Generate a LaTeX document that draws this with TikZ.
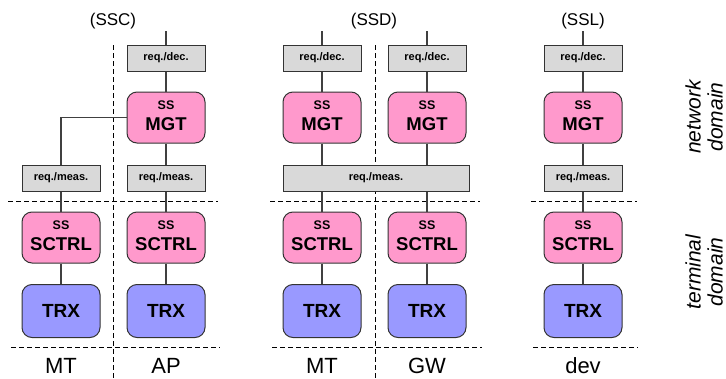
\documentclass[tikz,border=0pt]{standalone}
\usepackage{fontspec}
\setmainfont{Liberation Sans}
\definecolor{pinkbg}{HTML}{FF99CC}
\definecolor{bluebg}{HTML}{9999FF}
\definecolor{graybg}{HTML}{D9D9D9}
\definecolor{edge}{HTML}{333333}
\definecolor{wire}{HTML}{404040}
\tikzset{
  unit/.style={draw=edge, line width=1pt, inner sep=0pt, minimum width=78pt},
  reqbox/.style={unit, fill=graybg, minimum height=26pt,
    font=\bfseries\fontsize{11}{11}\selectfont},
  ssbox/.style={unit, fill=pinkbg, rounded corners=10pt, minimum height=51pt},
  trxbox/.style={unit, fill=bluebg, rounded corners=10pt, minimum height=53pt,
    font=\bfseries\fontsize{19}{19}\selectfont},
  smalltag/.style={anchor=base, inner sep=0pt, font=\bfseries\fontsize{12.5}{12.5}\selectfont},
  bigtag/.style={anchor=base, inner sep=0pt, font=\bfseries\fontsize{18.5}{18.5}\selectfont},
  conn/.style={draw=wire, line width=1.2pt},
  sep/.style={draw=black, line width=0.9pt, dash pattern=on 5pt off 3pt},
  grouptitle/.style={anchor=base, inner sep=0pt, font=\fontsize{17}{17}\selectfont},
  devname/.style={anchor=base, inner sep=0pt, text depth=0pt,
    font=\fontsize{22}{22}\selectfont},
  domainlabel/.style={rotate=90, align=center, inner sep=0pt,
    font=\itshape\fontsize{21}{22}\selectfont}
}
% subsystem box: name, position, main label
\newcommand{\subsysbox}[3]{%
  \node[ssbox] (#1) at (#2) {};
  \node[smalltag] (#1-ss) at ([yshift=8pt]#1.center) {SS};
  \node[bigtag] (#1-lbl) at ([yshift=-13pt]#1.center) {#3};
}
\begin{document}
\begin{tikzpicture}[x=1pt,y=-1pt]
\useasboundingbox (0,0) rectangle (726,378);

% separators
\draw[sep] (113,45) -- (113,378);
\draw[sep] (375,45) -- (375,378);
\draw[sep] (8,201) -- (218,201);
\draw[sep] (270,201) -- (480,201);
\draw[sep] (531,201) -- (637,201);
\draw[sep] (11,347) -- (220,347);
\draw[sep] (272,347) -- (482,347);
\draw[sep] (533,347) -- (638,347);

% group titles
\node[grouptitle] (tSSC) at (113,25) {(SSC)};
\node[grouptitle] (tSSD) at (374,25) {(SSD)};
\node[grouptitle] (tSSL) at (583,25) {(SSL)};

% ---- SSC: MT + AP
\node[reqbox] (rdAP) at (166,58) {req./dec.};
\subsysbox{mgtAP}{166,117.5}{MGT}
\node[reqbox] (rmMT) at (61,178) {req./meas.};
\node[reqbox] (rmAP) at (166,178) {req./meas.};
\subsysbox{scMT}{61,237.5}{SCTRL}
\subsysbox{scAP}{166,237.5}{SCTRL}
\node[trxbox] (trxMT) at (61,311) {TRX};
\node[trxbox] (trxAP) at (166,311) {TRX};
\coordinate (inSSC) at (166,31);
\draw[conn] (inSSC) -- (rdAP.north);
\draw[conn] (rdAP.south) -- (mgtAP.north);
\draw[conn] (mgtAP.south) -- (rmAP.north);
\draw[conn] (mgtAP.west) -| (rmMT.north);
\draw[conn] (rmMT.south) -- (scMT.north);
\draw[conn] (rmAP.south) -- (scAP.north);
\draw[conn] (scMT.south) -- (trxMT.north);
\draw[conn] (scAP.south) -- (trxAP.north);

% ---- SSD: MT + GW
\node[reqbox] (rdMT) at (322,58) {req./dec.};
\node[reqbox] (rdGW) at (427,58) {req./dec.};
\subsysbox{mgtMT}{322,117.5}{MGT}
\subsysbox{mgtGW}{427,117.5}{MGT}
\node[reqbox, minimum width=186pt] (rmSSD) at (376,178) {req./meas.};
\subsysbox{scMT2}{322,237.5}{SCTRL}
\subsysbox{scGW}{427,237.5}{SCTRL}
\node[trxbox] (trxMT2) at (322,311) {TRX};
\node[trxbox] (trxGW) at (427,311) {TRX};
\coordinate (inMT) at (322,31);
\coordinate (inGW) at (427,31);
\draw[conn] (inMT) -- (rdMT.north);
\draw[conn] (inGW) -- (rdGW.north);
\draw[conn] (rdMT.south) -- (mgtMT.north);
\draw[conn] (rdGW.south) -- (mgtGW.north);
\draw[conn] (mgtMT.south) -- (mgtMT.south |- rmSSD.north);
\draw[conn] (mgtGW.south) -- (mgtGW.south |- rmSSD.north);
\draw[conn] (scMT2.north |- rmSSD.south) -- (scMT2.north);
\draw[conn] (scGW.north |- rmSSD.south) -- (scGW.north);
\draw[conn] (scMT2.south) -- (trxMT2.north);
\draw[conn] (scGW.south) -- (trxGW.north);

% ---- SSL: dev
\node[reqbox] (rdDev) at (583,58) {req./dec.};
\subsysbox{mgtDev}{583,117.5}{MGT}
\node[reqbox] (rmDev) at (583,178) {req./meas.};
\subsysbox{scDev}{583,237.5}{SCTRL}
\node[trxbox] (trxDev) at (583,311) {TRX};
\coordinate (inDev) at (583,31);
\draw[conn] (inDev) -- (rdDev.north);
\draw[conn] (rdDev.south) -- (mgtDev.north);
\draw[conn] (mgtDev.south) -- (rmDev.north);
\draw[conn] (rmDev.south) -- (scDev.north);
\draw[conn] (scDev.south) -- (trxDev.north);

% device names
\node[devname] (nMT) at (61,373) {MT};
\node[devname] (nAP) at (166,373) {AP};
\node[devname] (nMT2) at (322,373) {MT};
\node[devname] (nGW) at (427,373) {GW};
\node[devname] (nDev) at (583,373) {dev};

% domain labels
\node[domainlabel] (netdom) at (704,117) {network\\domain};
\node[domainlabel] (termdom) at (704,272) {terminal\\domain};
\end{tikzpicture}
\end{document}
